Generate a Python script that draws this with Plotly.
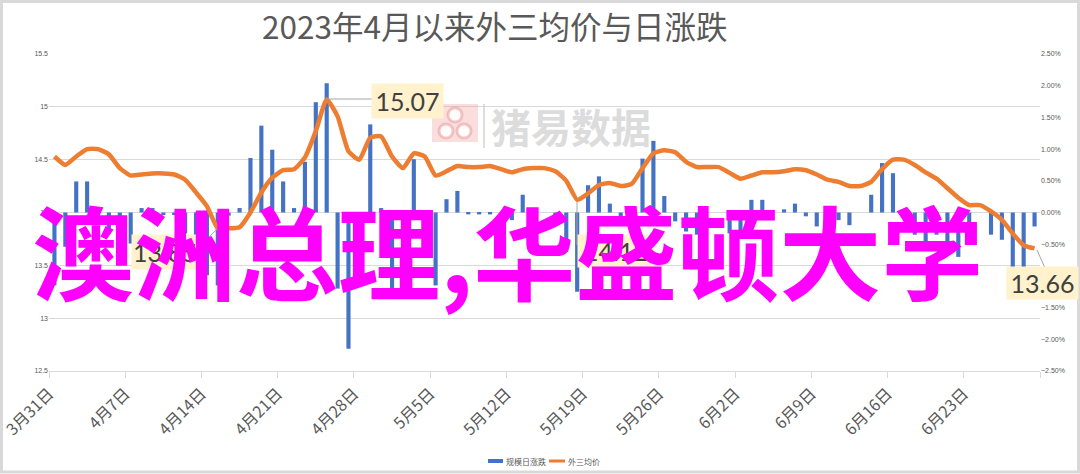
import plotly.graph_objects as go
import pandas as pd

# ---------------- data ----------------
start_date = "2023-03-31"

# 外三均价 (left axis, yuan/kg)
price = [14.53, 14.45, 14.53, 14.60, 14.60, 14.55, 14.42, 14.35, 14.36, 14.37,
         14.37, 14.36, 14.31, 14.19, 14.06, 13.85, 13.85, 13.86, 14.00, 14.19,
         14.33, 14.40, 14.41, 14.52, 14.77, 15.07, 14.91, 14.58, 14.50, 14.71,
         14.72, 14.53, 14.42, 14.56, 14.53, 14.35, 14.39, 14.44, 14.43, 14.43,
         14.44, 14.41, 14.38, 14.41, 14.42, 14.42, 14.39, 14.30, 14.12, 14.18,
         14.26, 14.28, 14.25, 14.27, 14.42, 14.56, 14.59, 14.57, 14.48, 14.43,
         14.43, 14.43, 14.375, 14.32, 14.35, 14.38, 14.38, 14.39, 14.41, 14.40,
         14.36, 14.31, 14.29, 14.25, 14.25, 14.29, 14.41, 14.50, 14.50, 14.45,
         14.38, 14.32, 14.23, 14.14, 14.07, 14.07, 14.01, 13.93, 13.80, 13.69,
         13.66]

# 规模日涨跌 (right axis, %)
change = [-1.15, -0.54, 0.49, 0.49, 0.00, -0.33, -0.80, -0.49, 0.07, 0.07,
          -0.04, -0.04, -0.33, -0.80, -0.99, -1.15, -0.05, 0.07, 0.86, 1.37,
          0.99, 0.49, 0.07, 0.80, 1.74, 2.04, -1.20, -2.15, -0.55, 1.39,
          0.07, -1.36, -0.75, 0.84, -0.24, -1.15, 0.21, 0.34, -0.03, -0.03,
          -0.03, -0.15, -0.12, 0.28, -0.10, 0.00, -0.20, -0.62, -1.25, 0.43,
          0.57, 0.14, -0.20, 0.10, 0.85, 1.13, 0.26, -0.14, -0.30, -0.35,
          0.00, 0.00, -0.33, -0.33, 0.20, 0.20, 0.00, 0.05, 0.14, -0.06,
          -0.22, -0.35, -0.12, -0.20, 0.00, 0.28, 0.78, 0.62, 0.00, -0.35,
          -0.54, -0.35, -0.54, -0.70, -0.41, 0.00, -0.35, -0.43, -0.86, -0.86,
          -0.22]

tick_dates = ["2023-03-31", "2023-04-07", "2023-04-14", "2023-04-21", "2023-04-28",
              "2023-05-05", "2023-05-12", "2023-05-19", "2023-05-26", "2023-06-02",
              "2023-06-09", "2023-06-16", "2023-06-23", "2023-06-30"]
tick_labels = ["3月31日", "4月7日", "4月14日", "4月21日", "4月28日", "5月5日", "5月12日",
               "5月19日", "5月26日", "6月2日", "6月9日", "6月16日", "6月23日", ""]

title_text = "2023年4月以来外三均价与日涨跌"
overlay_text = "澳洲总理,华盛顿大学"
watermark_text = "猪易数据"
legend_names = ["规模日涨跌", "外三均价"]

# ---------------- geometry helpers ----------------
W, H = 1080, 474
L, R, T, B = 49, 1040, 54, 371


def px(x):
    return (x - L) / (R - L)


def py(y):
    return (B - y) / (B - T)


dates = pd.date_range(start_date, periods=len(price), freq="D") + pd.Timedelta(hours=12)

BLUE = "#4472C4"
ORANGE = "#ED7D31"
GRID = "#D9D9D9"
TXT = "#595959"
CJK = "Noto Sans CJK SC, sans-serif"

fig = go.Figure()
fig.add_trace(go.Bar(
    x=dates, y=change, yaxis="y", name=legend_names[0],
    marker=dict(color=BLUE, line=dict(width=0)),
    width=0.38 * 86400000, showlegend=False,
))
fig.add_trace(go.Scatter(
    x=dates, y=price, yaxis="y2", name=legend_names[1], mode="lines",
    line=dict(color=ORANGE, width=4.5, shape="spline", smoothing=0.5),
    showlegend=False,
))

shapes = []
annotations = []

# outer frame
shapes.append(dict(type="rect", xref="paper", yref="paper",
                   x0=px(1.5), x1=px(1078.5), y0=py(472), y1=py(1.5),
                   line=dict(color=GRID, width=3), layer="below"))

# title
annotations.append(dict(text=title_text, xref="paper", yref="paper",
                        x=px(494), y=py(25), xanchor="center", yanchor="middle",
                        showarrow=False, font=dict(family=CJK, size=31.5, color=TXT)))

# watermark logo + text
shapes.append(dict(type="rect", xref="paper", yref="paper",
                   x0=px(432), x1=px(478), y0=py(142), y1=py(104),
                   fillcolor="rgba(240,160,160,0.35)", line=dict(width=0), layer="above"))
for cx, cy in [(455, 115), (446, 131), (464, 131)]:
    shapes.append(dict(type="circle", xref="paper", yref="paper",
                       x0=px(cx - 7), x1=px(cx + 7), y0=py(cy + 7), y1=py(cy - 7),
                       fillcolor="rgba(255,255,255,0.9)",
                       line=dict(color="rgba(230,140,140,0.45)", width=3), layer="above"))
shapes.append(dict(type="line", xref="paper", yref="paper",
                   x0=px(484), x1=px(484), y0=py(148), y1=py(104),
                   line=dict(color="rgba(200,200,200,0.6)", width=2), layer="above"))
annotations.append(dict(text=watermark_text, xref="paper", yref="paper",
                        x=px(571), y=py(126), xanchor="center", yanchor="middle",
                        showarrow=False,
                        font=dict(family=CJK, size=40, color="rgba(190,190,190,0.55)", weight=700)))

# data label leader lines
for (x0, y0, x1, y1) in [(327, 99, 372, 99), (1037, 250, 1045, 268),
                         (217, 229, 199, 247), (577, 202, 577, 245)]:
    shapes.append(dict(type="line", xref="paper", yref="paper",
                       x0=px(x0), x1=px(x1), y0=py(y0), y1=py(y1),
                       line=dict(color="#A6A6A6", width=1), layer="above"))

# data labels
for txt, cx, cy, w, h in [("15.07", 407, 101, 71, 34), ("13.85", 165, 252, 66, 34),
                          ("14.12", 616, 251, 76, 32), ("13.66", 1042.5, 283, 71, 32)]:
    annotations.append(dict(text=txt, xref="paper", yref="paper", x=px(cx), y=py(cy),
                            xanchor="center", yanchor="middle", showarrow=False,
                            width=w, height=h, bgcolor="#FFF2CC", borderpad=0,
                            font=dict(family="Lato, Liberation Sans, sans-serif", size=25, color="#404040")))

# manual legend
shapes.append(dict(type="rect", xref="paper", yref="paper",
                   x0=px(488), x1=px(503), y0=py(463), y1=py(459),
                   fillcolor=BLUE, line=dict(width=0)))
shapes.append(dict(type="rect", xref="paper", yref="paper",
                   x0=px(549), x1=px(565), y0=py(462.5), y1=py(459.5),
                   fillcolor=ORANGE, line=dict(width=0)))
annotations.append(dict(text=legend_names[0], xref="paper", yref="paper", x=px(504), y=py(461),
                        xanchor="left", yanchor="middle", showarrow=False,
                        font=dict(family=CJK, size=8, color=TXT)))
annotations.append(dict(text=legend_names[1], xref="paper", yref="paper", x=px(566), y=py(461),
                        xanchor="left", yanchor="middle", showarrow=False,
                        font=dict(family=CJK, size=8, color=TXT)))

# big magenta overlay text (topmost)
annotations.append(dict(text=overlay_text, xref="paper", yref="paper",
                        x=px(507), y=py(248), xanchor="center", yanchor="middle",
                        showarrow=False,
                        font=dict(family=CJK, size=102, color="#FF00FF", weight=700)))

fig.update_layout(
    template="none",
    width=W, height=H, autosize=False,
    margin=dict(l=L, r=W - R, t=T, b=H - B, pad=0, autoexpand=False),
    paper_bgcolor="white", plot_bgcolor="white",
    showlegend=False,
    xaxis=dict(type="date", range=["2023-03-31", "2023-06-30"], automargin=False,
               tickmode="array", tickvals=tick_dates, ticktext=tick_labels,
               ticklabeloverflow="allow",
               tickangle=-45, ticks="outside", ticklen=6, tickcolor=GRID, tickwidth=1,
               showline=True, linecolor=GRID, linewidth=1, showgrid=False, zeroline=False,
               tickfont=dict(family=CJK, size=16, color=TXT)),
    yaxis=dict(range=[-2.5, 2.5], dtick=0.5, tick0=0, side="right", automargin=False,
               tickformat=".2f", ticksuffix="%", showgrid=False, zeroline=False,
               showline=False, ticks="", tickfont=dict(family="Liberation Sans, sans-serif", size=7, color=TXT)),
    yaxis2=dict(range=[12.5, 15.5], dtick=0.5, tick0=12.5, side="left", overlaying="y",
                automargin=False,
                showgrid=True, gridcolor=GRID, gridwidth=1, zeroline=False,
                showline=False, ticks="", tickfont=dict(family="Liberation Sans, sans-serif", size=7, color=TXT)),
    shapes=shapes,
    annotations=annotations,
)

fig.write_html("out.html", config={"displayModeBar": False},
               post_script="document.body.style.margin='0';document.body.style.overflow='hidden';")
